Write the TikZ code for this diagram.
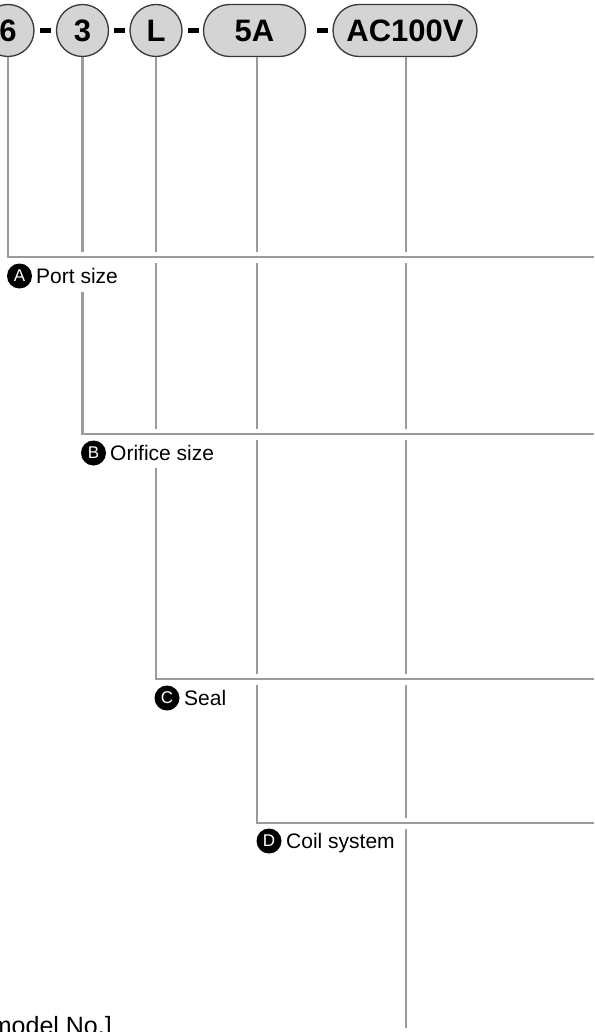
\documentclass[tikz,border=0pt]{standalone}
\usepackage{fontspec}
\setmainfont{Liberation Sans}
\begin{document}
\begin{tikzpicture}[x=1pt,y=-1pt,
  lineg/.style={draw=lgray,line width=2.8pt},
  topc/.style={circle,draw=cborder,fill=cfill,line width=1.3pt,minimum size=52pt,inner sep=0pt,font=\fontsize{31}{31}\selectfont\bfseries},
  pill/.style={rectangle,rounded corners=26pt,draw=cborder,fill=cfill,line width=1.3pt,minimum height=52pt,inner sep=0pt,font=\fontsize{31}{31}\selectfont\bfseries},
  dashbar/.style={fill=black,draw=none,minimum width=11pt,minimum height=5pt,inner sep=0pt},
  badge/.style={circle,fill=black,text=white,minimum size=25pt,inner sep=0pt,font=\fontsize{17}{17}\selectfont},
  lbl/.style={anchor=base west,inner sep=0pt,font=\fontsize{21}{21}\selectfont}
]
\definecolor{lgray}{RGB}{155,155,155}
\definecolor{cborder}{RGB}{55,55,55}
\definecolor{cfill}{RGB}{212,212,212}
\useasboundingbox (0,0) rectangle (594,1032);

% top nodes
\node[topc] (n6) at (8,30.5) {6};
\node[topc] (n3) at (82.5,30.5) {3};
\node[topc] (nL) at (156,30.5) {L};
\node[pill,minimum width=102pt] (n5A) at (254.5,30.5) {5A};
\node[pill,minimum width=144pt] (nAC) at (405,30.5) {AC100V};
\node[dashbar] (d1) at (45.5,31) {};
\node[dashbar] (d2) at (119,31) {};
\node[dashbar] (d3) at (193,31) {};
\node[dashbar] (d4) at (322,31) {};

% labels
\node[badge] (bA) at (19.5,276) {A};
\node[lbl] (lA) at (36,283) {Port size};
\node[badge] (bB) at (93.5,453) {B};
\node[lbl] (lB) at (110,460) {Orifice size};
\node[badge] (bC) at (167,698) {C};
\node[lbl] (lC) at (184,705) {Seal};
\node[badge] (bD) at (269,841) {D};
\node[lbl] (lD) at (286,848) {Coil system};

% coordinates
\coordinate (eA) at (594,257);
\coordinate (eB) at (594,434);
\coordinate (eC) at (594,679);
\coordinate (eD) at (594,823);
\coordinate (eAC) at (406,1028);

% 6 line
\draw[lineg] (n6.south) |- (eA);
% 3 line
\draw[lineg] (n3.south) -- ++(0,195);
\draw[lineg] ([yshift=-235pt]n3.south) |- (eB);
% L line
\draw[lineg] (nL.south) -- ++(0,195);
\draw[lineg] ([yshift=-206pt]nL.south) -- ++(0,166);
\draw[lineg] ([yshift=-411pt]nL.south) |- (eC);
% 5A line
\draw[lineg] ([xshift=2.5pt]n5A.south) -- ++(0,195);
\draw[lineg] ([xshift=2.5pt,yshift=-206pt]n5A.south) -- ++(0,166);
\draw[lineg] ([xshift=2.5pt,yshift=-383pt]n5A.south) -- ++(0,234);
\draw[lineg] ([xshift=2.5pt,yshift=-628pt]n5A.south) |- (eD);
% AC line
\draw[lineg] ([xshift=1pt]nAC.south) -- ++(0,195);
\draw[lineg] ([xshift=1pt,yshift=-206pt]nAC.south) -- ++(0,166);
\draw[lineg] ([xshift=1pt,yshift=-383pt]nAC.south) -- ++(0,234);
\draw[lineg] ([xshift=1pt,yshift=-628pt]nAC.south) -- ++(0,133);
\draw[lineg] ([xshift=1pt,yshift=-772pt]nAC.south) -- (eAC);

% bottom text
\node[anchor=base east,inner sep=0pt,font=\fontsize{25}{25}\selectfont] (mn) at (112,1034) {model No.]};
\end{tikzpicture}
\end{document}
